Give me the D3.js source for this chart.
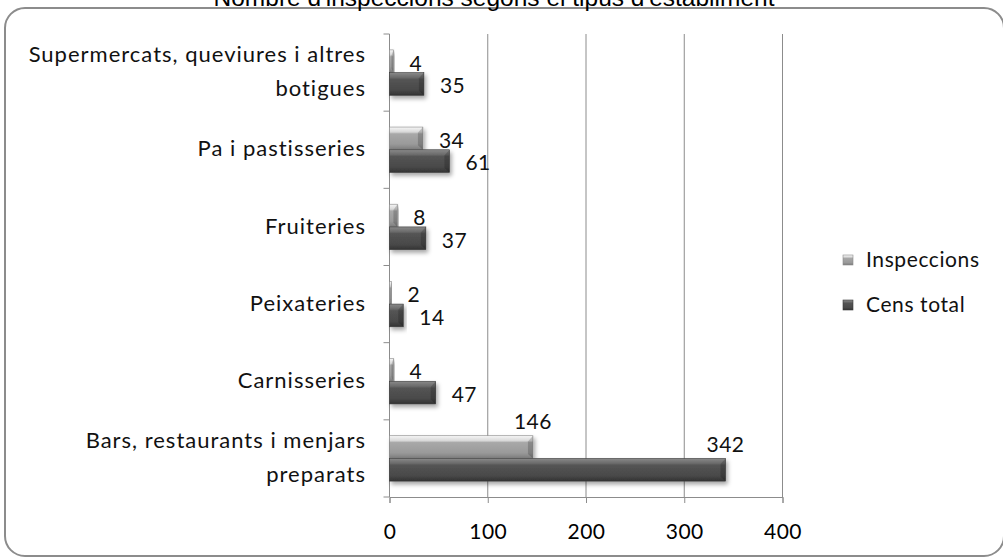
<!DOCTYPE html>
<html>
<head>
<meta charset="utf-8">
<script src="https://cdn.jsdelivr.net/npm/d3@7.9.0/dist/d3.min.js"></script>
<style>
  body { margin: 0; background: #fff; }
  svg { display: block; font-family: Lato, 'Open Sans', sans-serif; }
</style>
</head>
<body>
<svg id="chart" width="1003" height="559"></svg>
<script>
const categories = [
  'Supermercats, queviures i altres botigues',
  'Pa i pastisseries',
  'Fruiteries',
  'Peixateries',
  'Carnisseries',
  'Bars, restaurants i menjars preparats'
];
const inspeccions = [4, 34, 8, 2, 4, 146];
const censTotal = [35, 61, 37, 14, 47, 342];
const seriesNames = ['Inspeccions', 'Cens total'];
const xTicks = [0, 100, 200, 300, 400];
const title = "Nombre d'inspeccions segons el tipus d'establiment";

const width = 1003, height = 559;
const plot = { left: 389.5, right: 782.5, top: 34, bottom: 497 };

const svg = d3.select('#chart');
const defs = svg.append('defs');

// bevel-ish gradients for the 3D look
function gradient(id, stops) {
  const g = defs.append('linearGradient').attr('id', id)
    .attr('x1', 0).attr('y1', 0).attr('x2', 0).attr('y2', 1);
  stops.forEach(([o, c]) => g.append('stop').attr('offset', o).attr('stop-color', c));
}
gradient('lightBar', [[0, '#f6f6f6'], [0.22, '#d8d8d8'], [0.3, '#a8a8a8'], [0.75, '#9a9a9a'], [1, '#7c7c7c']]);
gradient('darkBar', [[0, '#8a8a8a'], [0.22, '#6a6a6a'], [0.3, '#545454'], [0.75, '#4a4a4a'], [1, '#333333']]);

const shadow = defs.append('filter').attr('id', 'shadow')
  .attr('x', '-10%').attr('y', '-30%').attr('width', '130%').attr('height', '180%');
shadow.append('feDropShadow').attr('dx', 2).attr('dy', 3).attr('stdDeviation', 2)
  .attr('flood-color', '#000').attr('flood-opacity', 0.35);

// outer chart border
svg.append('rect')
  .attr('x', 5).attr('y', 8).attr('width', 999).attr('height', 548)
  .attr('rx', 20).attr('ry', 20)
  .attr('fill', 'none').attr('stroke', '#8c8c8c').attr('stroke-width', 2);

// title, mostly clipped by the top edge (as in the original)
svg.append('text')
  .attr('x', 494).attr('y', 6)
  .attr('text-anchor', 'middle')
  .style('font-family', 'Liberation Sans, Arial, sans-serif')
  .style('font-size', '24.5px')
  .attr('fill', '#000')
  .text(title);

const x = d3.scaleLinear().domain([0, 400]).range([plot.left, plot.right]);
const y = d3.scaleBand().domain(categories).range([plot.top, plot.bottom]);
const inner = d3.scaleBand().domain(seriesNames).range([0, y.bandwidth()]).paddingOuter(0.7).paddingInner(0);

// gridlines
svg.append('g')
  .selectAll('line')
  .data(xTicks.slice(1))
  .join('line')
  .attr('x1', d => x(d)).attr('x2', d => x(d))
  .attr('y1', plot.top).attr('y2', plot.bottom)
  .attr('stroke', '#8c8c8c').attr('stroke-width', 1);

// x axis
const xAxis = svg.append('g')
  .attr('transform', `translate(0,${plot.bottom})`)
  .call(d3.axisBottom(x).tickValues(xTicks).tickSize(6).tickPadding(21));
xAxis.select('.domain').attr('stroke', '#8c8c8c');
xAxis.selectAll('.tick line').attr('stroke', '#8c8c8c');
xAxis.selectAll('text').style('font-size', '21px').attr('fill', '#000')
  .style('font-family', 'Lato, sans-serif').style('letter-spacing', '0.5px');

// y axis with ticks at band boundaries
const yAxis = svg.append('g').attr('transform', `translate(${plot.left},0)`);
yAxis.append('line')
  .attr('x1', 0).attr('x2', 0).attr('y1', plot.top).attr('y2', plot.bottom)
  .attr('stroke', '#8c8c8c');
yAxis.selectAll('.ytick')
  .data(categories.concat(['end']))
  .join('line')
  .attr('class', 'ytick')
  .attr('x1', -6).attr('x2', 0)
  .attr('y1', (d, i) => i < categories.length ? y(d) : plot.bottom)
  .attr('y2', (d, i) => i < categories.length ? y(d) : plot.bottom)
  .attr('stroke', '#8c8c8c');

// category labels (wrapped like the original)
const wrapped = {
  'Supermercats, queviures i altres botigues': ['Supermercats, queviures i altres', 'botigues'],
  'Bars, restaurants i menjars preparats': ['Bars, restaurants i menjars', 'preparats']
};
categories.forEach(c => {
  const lines = wrapped[c] || [c];
  const cy = y(c) + y.bandwidth() / 2;
  const t = svg.append('text')
    .attr('text-anchor', 'end')
    .style('font-size', '22px')
    .style('letter-spacing', '1px')
    .attr('fill', '#111');
  const lh = 34;
  lines.forEach((l, i) => {
    t.append('tspan')
      .attr('x', 366)
      .attr('y', cy + (i - (lines.length - 1) / 2) * lh - 1)
      .attr('dy', '0.35em')
      .text(l);
  });
});

// bars
const rows = categories.map((c, i) => ({ c, values: [inspeccions[i], censTotal[i]] }));
const barG = svg.append('g');
rows.forEach(r => {
  r.values.forEach((v, j) => {
    const s = seriesNames[j];
    const y0 = y(r.c) + inner(s);
    const h = inner.bandwidth();
    const x0 = x(0), x1 = x(v);
    barG.append('rect')
      .attr('x', x0).attr('y', y0)
      .attr('width', x1 - x0).attr('height', h)
      .attr('fill', j === 0 ? 'url(#lightBar)' : 'url(#darkBar)')
      .attr('stroke', j === 0 ? '#8a8a8a' : '#3a3a3a').attr('stroke-width', 0.6)
      .attr('filter', 'url(#shadow)');
    // chiselled right end
    const bev = Math.min(5, (x1 - x0) / 2);
    barG.append('path')
      .attr('d', `M${x1},${y0}L${x1 - bev},${y0 + h * 0.25}L${x1 - bev},${y0 + h * 0.8}L${x1},${y0 + h}Z`)
      .attr('fill', '#000').attr('fill-opacity', 0.18);
    // value labels
    const big = v > 100;
    svg.append('text')
      .attr('x', big ? x1 : x1 + 16)
      .attr('y', big ? y0 - 14 : y0 + h / 2 + 2)
      .attr('dy', '0.35em')
      .attr('text-anchor', big ? 'middle' : 'start')
      .style('font-size', '21px')
      .style('letter-spacing', '0.5px')
      .attr('fill', '#111')
      .text(v);
  });
});

// legend
const legend = svg.append('g');
seriesNames.forEach((s, i) => {
  const ly = 260 + i * 45;
  legend.append('rect')
    .attr('x', 843).attr('y', ly - 5).attr('width', 10).attr('height', 10)
    .attr('fill', i === 0 ? 'url(#lightBar)' : 'url(#darkBar)')
    .attr('stroke', i === 0 ? '#8a8a8a' : '#3a3a3a').attr('stroke-width', 0.6);
  legend.append('text')
    .attr('x', 866).attr('y', ly).attr('dy', '0.35em')
    .style('font-size', '21px').style('letter-spacing', '0.6px').attr('fill', '#111')
    .text(s);
});
</script>
</body>
</html>
